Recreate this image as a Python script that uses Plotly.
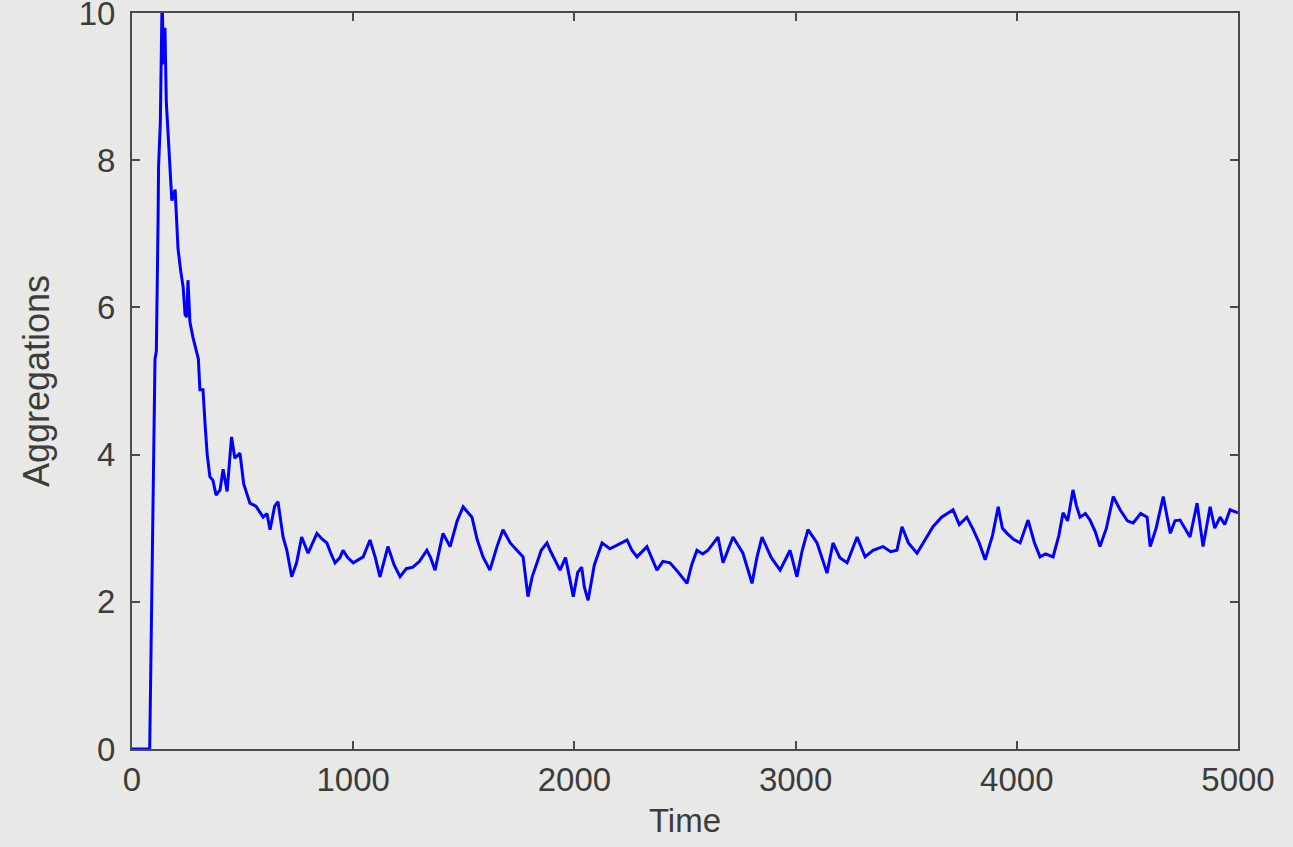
import plotly.graph_objects as go

# Simulation output: number of aggregations over time
time = [
    0, 75, 80, 104, 110, 118, 120, 128, 136, 143, 149, 155, 160, 167, 180, 195,
    208, 220, 231, 240, 248, 253, 262, 275, 292, 300, 307, 321, 330, 340, 352,
    366, 380, 398, 412, 430, 450, 465, 488, 505, 533, 560, 593, 610, 624, 645,
    660, 683, 700, 722, 744, 767, 796, 836, 860, 881, 900, 918, 940, 954, 975,
    1000, 1045, 1076, 1100, 1121, 1157, 1185, 1212, 1240, 1270, 1300, 1333,
    1350, 1370, 1390, 1406, 1438, 1470, 1497, 1520, 1537, 1560, 1587, 1618,
    1650, 1677, 1710, 1740, 1768, 1790, 1810, 1831, 1850, 1876, 1890, 1935,
    1960, 1995, 2015, 2033, 2045, 2062, 2090, 2125, 2160, 2200, 2238, 2260,
    2283, 2328, 2373, 2400, 2432, 2470, 2509, 2530, 2554, 2580, 2604, 2649,
    2672, 2717, 2762, 2803, 2825, 2848, 2890, 2930, 2975, 3006, 3030, 3056,
    3097, 3142, 3169, 3200, 3233, 3278, 3314, 3350, 3395, 3430, 3458, 3481,
    3510, 3549, 3585, 3621, 3660, 3712, 3740, 3774, 3803, 3830, 3857, 3890,
    3916, 3935, 3956, 3985, 4015, 4051, 4080, 4105, 4130, 4164, 4190, 4209,
    4230, 4254, 4270, 4286, 4310, 4331, 4355, 4376, 4405, 4436, 4467, 4500,
    4526, 4560, 4589, 4603, 4630, 4662, 4694, 4715, 4738, 4760, 4783, 4815,
    4842, 4874, 4895, 4919, 4940, 4964, 5000,
]
aggregations = [
    0, 0, 0, 5.3, 5.4, 7.2, 7.9, 8.5, 10.2, 9.3, 9.8, 8.8, 8.5, 8.1, 7.45, 7.6,
    6.8, 6.5, 6.28, 5.9, 5.87, 6.37, 5.8, 5.6, 5.4, 5.3, 4.88, 4.88, 4.43, 4.0,
    3.7, 3.65, 3.45, 3.52, 3.8, 3.5, 4.24, 3.95, 4.02, 3.6, 3.34, 3.3, 3.15,
    3.2, 2.98, 3.3, 3.36, 2.88, 2.7, 2.34, 2.53, 2.88, 2.66, 2.93, 2.85, 2.8,
    2.65, 2.53, 2.6, 2.7, 2.6,
    2.53, 2.61, 2.84, 2.6, 2.34, 2.75, 2.5, 2.34, 2.45, 2.47, 2.55, 2.7,
    2.6, 2.43, 2.7, 2.93, 2.75, 3.1, 3.29, 3.2, 3.15, 2.85, 2.61, 2.43,
    2.75, 2.98, 2.8, 2.7, 2.61, 2.07, 2.35, 2.53, 2.7, 2.8, 2.7, 2.43,
    2.6, 2.07, 2.4, 2.47, 2.2, 2.02, 2.5, 2.8, 2.72, 2.78, 2.84, 2.7,
    2.61, 2.75, 2.43, 2.55, 2.53, 2.4, 2.25, 2.5, 2.7, 2.65, 2.7, 2.88,
    2.53, 2.88, 2.66, 2.25, 2.6, 2.88, 2.6, 2.43, 2.7, 2.34, 2.7, 2.98,
    2.8, 2.39, 2.8, 2.6, 2.53, 2.88, 2.61, 2.7, 2.75, 2.68, 2.7, 3.02,
    2.8, 2.66, 2.85, 3.02, 3.15, 3.25, 3.05, 3.15, 2.98, 2.8, 2.57, 2.9,
    3.29, 3.0, 2.93, 2.85, 2.8, 3.11, 2.8, 2.61, 2.65, 2.61, 2.9, 3.21,
    3.1, 3.52, 3.3, 3.15, 3.2, 3.11, 2.95, 2.75, 3.0, 3.43, 3.25, 3.1,
    3.07, 3.2, 3.15, 2.75, 3.0, 3.43, 2.93, 3.1, 3.11, 3.0, 2.88, 3.34,
    2.75, 3.29, 3.0, 3.15, 3.05, 3.25, 3.21,
]

x_ticks = [0, 1000, 2000, 3000, 4000, 5000]
y_ticks = [0, 2, 4, 6, 8, 10]

bg = "#e8e9e6"
frame = "#4a4a4a"
text = "#3c3c3c"
font_family = "Liberation Sans, Arial, sans-serif"

fig = go.Figure()
fig.add_trace(go.Scatter(
    x=time, y=aggregations, mode="lines",
    line=dict(color="#0000ff", width=3),
    showlegend=False,
))

axis_common = dict(
    showgrid=False, zeroline=False, automargin=False,
    showline=True, linecolor=frame, linewidth=2, mirror="ticks",
    ticks="inside", ticklen=8, tickwidth=1.5, tickcolor=frame,
    tickfont=dict(family=font_family, size=33, color=text),
    ticklabeloverflow="allow",
)

fig.update_layout(
    width=1293, height=847,
    margin=dict(l=132, r=55, t=13, b=98),
    paper_bgcolor=bg, plot_bgcolor=bg,
    xaxis=dict(
        range=[0, 5000], tickvals=x_ticks, ticktext=[str(v) for v in x_ticks],
        title=dict(text="Time", font=dict(family=font_family, size=33, color=text),
                   standoff=12),
        **axis_common,
    ),
    yaxis=dict(
        range=[0, 10], tickvals=y_ticks, ticktext=[str(v) for v in y_ticks],
        ticklabelstandoff=8,
        title=dict(text="Aggregations", font=dict(family=font_family, size=36, color=text),
                   standoff=18),
        **axis_common,
    ),
)

fig.write_html("out.html")
